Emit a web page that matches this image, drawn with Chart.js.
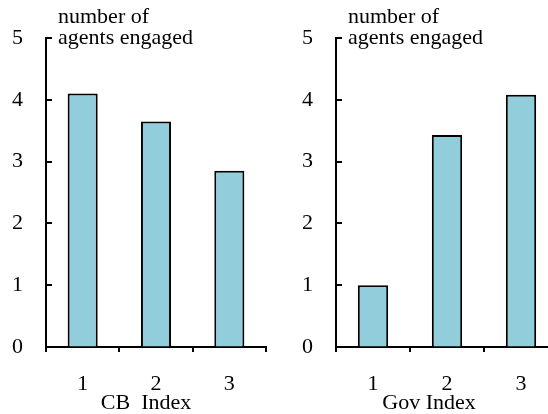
<!DOCTYPE html>
<html><head><meta charset="utf-8">
<script src="https://cdn.jsdelivr.net/npm/chart.js@4"></script>
<style>
html,body{margin:0;padding:0;width:548px;height:414px;overflow:hidden;background:#fff;}
canvas{display:block;}
</style></head><body>
<div style="position:absolute;left:0;top:0;width:274px;height:414px"><canvas id="c1" width="274" height="414"></canvas></div>
<div style="position:absolute;left:290px;top:0;width:268px;height:414px"><canvas id="c2" width="268" height="414"></canvas></div>
<script>
const categories = ['1', '2', '3'];
const cbValues = [4.10, 3.65, 2.85];
const govValues = [1.00, 3.43, 4.08];
const yTicks = [0, 1, 2, 3, 4, 5];
const yTitle = ['number of', 'agents engaged'];
const cbTitle = 'CB  Index';
const govTitle = 'Gov Index';

const FONT = '"Liberation Serif", "Times New Roman", serif';

function decor(titleLines, xTitle, xOff) {
  return {
    id: 'decor',
    afterDraw(chart) {
      const { ctx, chartArea, scales: { x, y } } = chart;
      ctx.save();
      ctx.strokeStyle = '#000';
      ctx.lineWidth = 2;
      yTicks.forEach(v => {
        const py = Math.round(y.getPixelForValue(v));
        ctx.beginPath();
        ctx.moveTo(chartArea.left, py);
        ctx.lineTo(chartArea.left + 6, py);
        ctx.stroke();
      });
      ctx.fillStyle = '#000';
      ctx.font = '22px ' + FONT;
      ctx.textAlign = 'left';
      ctx.textBaseline = 'alphabetic';
      ctx.fillText(titleLines[0], chartArea.left + 12, chartArea.top - 15);
      ctx.fillText(titleLines[1], chartArea.left + 12, chartArea.top + 6);
      ctx.textAlign = 'center';
      ctx.fillText(xTitle, (chartArea.left + chartArea.right) / 2 + xOff, chartArea.bottom + 62);
      ctx.restore();
    }
  };
}

function makeChart(id, values, xTitle, xOff, padRight) {
  return new Chart(document.getElementById(id), {
    type: 'bar',
    data: {
      labels: categories,
      datasets: [{
        data: values,
        backgroundColor: '#92CDDC',
        borderColor: '#000',
        borderWidth: 2,
        categoryPercentage: 1,
        barPercentage: 0.41
      }]
    },
    options: {
      responsive: false,
      animation: false,
      devicePixelRatio: 1,
      layout: { padding: { top: 38, right: padRight, left: 0, bottom: 0 } },
      plugins: { legend: { display: false }, tooltip: { enabled: false }, title: { display: false } },
      scales: {
        x: {
          grid: { display: true, drawOnChartArea: false, drawTicks: true, tickLength: 5, color: '#000', lineWidth: 2, offset: true },
          border: { display: true, color: '#000', width: 2 },
          ticks: { font: { family: FONT, size: 22 }, color: '#000', padding: 19 },
          afterFit(s) { s.height = 67; }
        },
        y: {
          min: 0, max: 5,
          ticks: { stepSize: 1, padding: 23, font: { family: FONT, size: 22 }, color: '#000' },
          grid: { display: true, drawOnChartArea: false, drawTicks: false },
          border: { display: true, color: '#000', width: 2 },
          afterFit(s) { s.width = 46; }
        }
      }
    },
    plugins: [decor(yTitle, xTitle, xOff)]
  });
}

makeChart('c1', cbValues, cbTitle, -10, 8);
makeChart('c2', govValues, govTitle, -18, 0);
</script>
</body></html>
